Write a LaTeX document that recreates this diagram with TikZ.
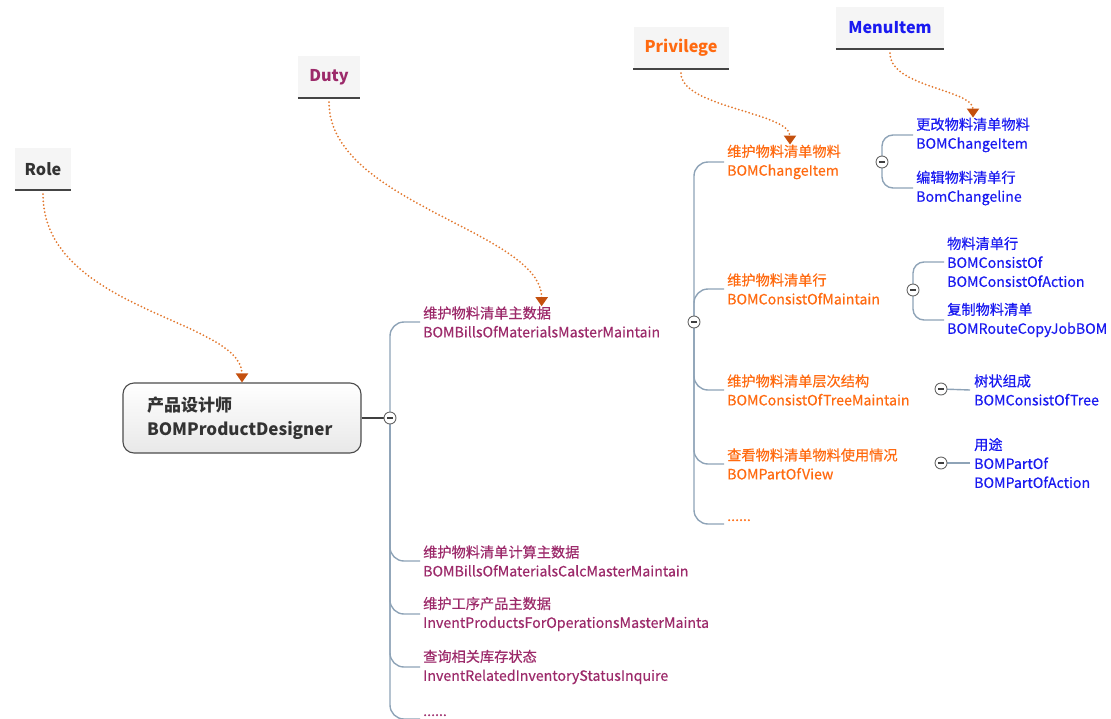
\documentclass[tikz,border=0pt]{standalone}
\usepackage{fontspec}
\setmainfont{Noto Sans CJK SC}
\newfontfamily\topicfont[FakeBold=0.45]{Noto Sans CJK SC}
\usetikzlibrary{arrows.meta}
\definecolor{rolec}{HTML}{333333}
\definecolor{dutyc}{HTML}{9C2A6A}
\definecolor{privc}{HTML}{FF6A10}
\definecolor{menuc}{HTML}{1A1AF0}
\definecolor{branchc}{HTML}{8EA3B7}
\definecolor{linkc}{HTML}{E2782E}
\definecolor{tipc}{HTML}{C4500E}
\definecolor{labelbg}{HTML}{F5F5F5}
\definecolor{rulec}{HTML}{444444}
\begin{document}
\begin{tikzpicture}[x=1pt,y=-1pt,
  labelbox/.style={fill=labelbg, minimum height=42, inner xsep=9,
    font=\fontsize{16.2}{19}\selectfont\bfseries},
  topic/.style={align=left, inner sep=0, anchor=west,
    font=\topicfont\fontsize{14.2}{19}\selectfont},
  dots/.style={inner sep=0, anchor=base west, font=\topicfont\fontsize{14.2}{19}\selectfont},
  hub/.style={circle, draw=black!60, fill=white, minimum size=12, inner sep=0,
    line width=0.9, path picture={\draw[black!75, line width=1.1]
      ([xshift=-3.2]path picture bounding box.center) -- ([xshift=3.2]path picture bounding box.center);}},
  branch/.style={draw=branchc, line width=1.4, rounded corners=14},
  subbranch/.style={draw=branchc, line width=1.4, rounded corners=11},
  link/.style={draw=linkc, line width=2, line cap=round, dash pattern=on 0pt off 3.6pt,
    shorten <=4, -{Triangle[width=12,length=9,color=tipc,fill=tipc]}},
  rule/.style={draw=rulec, line width=1.5}
]
\useasboundingbox (0,0) rectangle (1111,718);

% category labels
\node[labelbox, text=rolec, minimum width=56] (role) at (43,169) {Role};
\node[labelbox, text=dutyc, minimum width=62] (duty) at (329,77) {Duty};
\node[labelbox, text=privc, minimum width=95] (priv) at (681,48) {Privilege};
\node[labelbox, text=menuc, minimum width=108] (menu) at (890,28) {MenuItem};
\foreach \n in {role,duty,priv,menu}
  \draw[rule] (\n.south west) -- (\n.south east);

% role node
\node[draw=black!70, line width=1.1, rounded corners=11, top color=white, bottom color=black!9,
  minimum width=238, minimum height=70, text width=190, inner xsep=24, align=left,
  text=rolec, font=\fontsize{17}{24}\selectfont\bfseries] (main) at (242,418)
  {产品设计师\\BOMProductDesigner};

% duties
\node[topic, text=dutyc] (d1) at (423,322) {维护物料清单主数据\\BOMBillsOfMaterialsMasterMaintain};
\node[topic, text=dutyc] (d2) at (423,561) {维护物料清单计算主数据\\BOMBillsOfMaterialsCalcMasterMaintain};
\node[topic, text=dutyc] (d3) at (423,614) {维护工序产品主数据\\InventProductsForOperationsMasterMainta};
\node[topic, text=dutyc] (d4) at (423,667) {查询相关库存状态\\InventRelatedInventoryStatusInquire};
\node[dots, text=dutyc] (d5) at (423,716) {......};

% privileges
\node[topic, text=privc] (p1) at (727,162) {维护物料清单物料\\BOMChangeItem};
\node[topic, text=privc] (p2) at (727,289) {维护物料清单行\\BOMConsistOfMaintain};
\node[topic, text=privc] (p3) at (727,390) {维护物料清单层次结构\\BOMConsistOfTreeMaintain};
\node[topic, text=privc] (p4) at (727,464) {查看物料清单物料使用情况\\BOMPartOfView};
\node[dots, text=privc] (p5) at (727,521) {......};

% menu items
\node[topic, text=menuc] (m1a) at (916,135) {更改物料清单物料\\BOMChangeItem};
\node[topic, text=menuc] (m1b) at (916,188) {编辑物料清单行\\BomChangeline};
\node[topic, text=menuc] (m2a) at (947,262) {物料清单行\\BOMConsistOf\\BOMConsistOfAction};
\node[topic, text=menuc] (m2b) at (947,320) {复制物料清单\\BOMRouteCopyJobBOM};
\node[topic, text=menuc] (m3a) at (974,390) {树状组成\\BOMConsistOfTree};
\node[topic, text=menuc] (m4a) at (974,463) {用途\\BOMPartOf\\BOMPartOfAction};

% hub positions
\coordinate (dh) at (390,418);
\coordinate (ph) at (694,322);
\coordinate (mh1) at (882,162);
\coordinate (mh2) at (913,290);
\coordinate (mh3) at (941,389);
\coordinate (mh4) at (941,463);

% branches
\draw[line width=1.1, draw=black!75] (main.east) -- (dh);
\foreach \c in {d1,d2,d3,d4}
  \draw[branch] (dh) |- ([xshift=-3]\c.west);
\draw[branch] (dh) |- ([xshift=-3,yshift=-3]d5.base west);
\foreach \c in {p1,p2,p3,p4}
  \draw[branch] (ph) |- ([xshift=-3]\c.west);
\draw[branch] (ph) |- ([xshift=-3,yshift=-3]p5.base west);
\draw[subbranch] (mh1) |- ([xshift=-3]m1a.west);
\draw[subbranch] (mh1) |- ([xshift=-3]m1b.west);
\draw[subbranch] (mh2) |- ([xshift=-3]m2a.west);
\draw[subbranch] (mh2) |- ([xshift=-3]m2b.west);
\draw[subbranch] (mh3) -- ([xshift=-4]m3a.west);
\draw[subbranch] (mh4) -- ([xshift=-4]m4a.west);

% collapse markers
\node[hub] (dhub) at (dh) {};
\node[hub] (phub) at (ph) {};
\node[hub] (mhub1) at (mh1) {};
\node[hub] (mhub2) at (mh2) {};
\node[hub] (mhub3) at (mh3) {};
\node[hub] (mhub4) at (mh4) {};

% dotted links from labels
\draw[link] (role.south) .. controls +(0,120) and +(0,-63) .. (main.north);
\draw[link] (duty.south) .. controls +(0,105) and +(0,-75) .. (d1.north);
\draw[link] (priv.south) .. controls +(0,38) and +(0,-32) .. ([xshift=6]p1.north);
\draw[link] (menu.south) .. controls +(0,38) and +(0,-28) .. (m1a.north);
\end{tikzpicture}
\end{document}
